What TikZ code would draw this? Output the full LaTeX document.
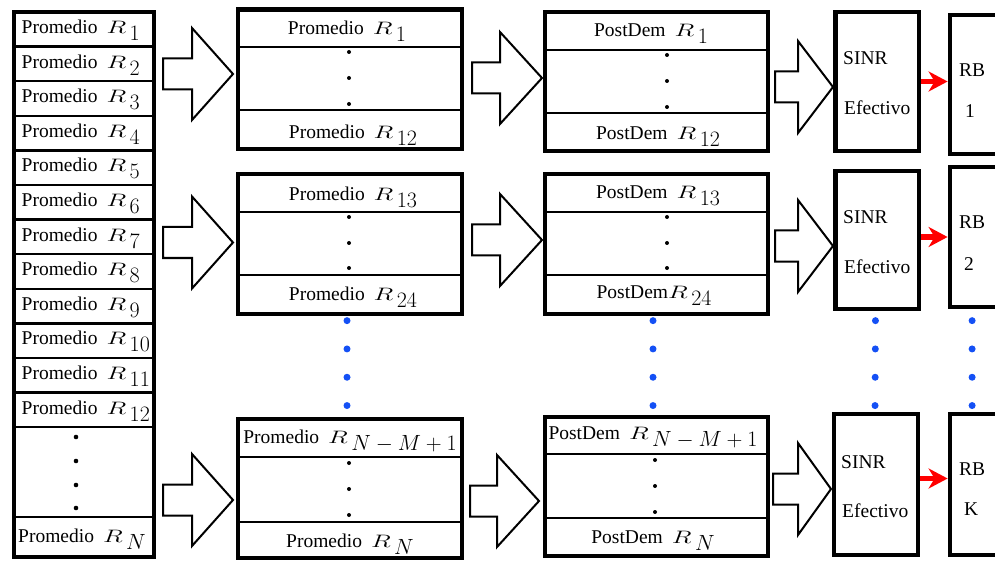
\RequirePackage{fix-cm}
\documentclass[tikz,border=0pt]{standalone}
\usepackage[no-math]{fontspec}
\usepackage{graphicx}
\setmainfont{Liberation Serif}
\usetikzlibrary{fit,arrows.meta}

% wide R with a large, lowered index
\newcommand{\Rsub}[1]{\scalebox{1.45}[1]{\fontsize{18}{21}\selectfont$R$}\kern3.5pt\raisebox{-7pt}{\fontsize{22}{26}\selectfont$#1$}}
\newcommand{\gapR}{\hspace{9pt}}

\definecolor{dotblue}{RGB}{20,80,245}

\begin{document}
\begin{tikzpicture}[x=1pt,y=-1pt,
  frame/.style={draw, line width=4.8pt, inner sep=0pt},
  rowline/.style={line width=2.4pt},
  lbl/.style={inner sep=0pt, font=\fontsize{19.5}{23}\selectfont},
  bigarrow/.style={draw, line width=2pt, fill=white, line join=miter},
  vdot/.style={fill=black},
  bluedots/.style={draw=dotblue, line width=7pt, line cap=round, dash pattern=on 0pt off 28.3pt},
  redarrow/.style={draw=red, line width=5.5pt, -{Stealth[length=19pt,width=20pt,inset=6pt]}},
  pics/blockarrow/.style 2 args={code={
    \draw[bigarrow] (0,-15.5) -- (#1,-15.5) -- (#1,-46) -- (#2,0)
      -- (#1,46) -- (#1,15.5) -- (0,15.5) -- cycle;}}
]
\useasboundingbox (0,0) rectangle (995,561);

% ---------- input column ----------
\node[frame, fit={(14,12) (154,557)}] (col) {};
\foreach \k in {1,...,12}{
  \draw[rowline] (14,{12+34.6*\k}) -- (154,{12+34.6*\k});
  \node[lbl, anchor=base west] (l\k) at (21.5,{12+34.6*(\k-1)+21.5}) {Promedio\gapR\Rsub{\k}};
}
\draw[rowline] (14,517) -- (154,517);
\node[lbl, anchor=base west] (lN) at (18,542) {Promedio\gapR\Rsub{N}};
\foreach \y in {437,461,485,508} \fill[vdot] (76,\y) circle (2.3);

% ---------- averaged groups ----------
\node[frame, fit={(238,9.5) (462,149)}] (m1) {};
\draw[rowline] (238,47) -- (462,47);
\draw[rowline] (238,110) -- (462,110);
\node[lbl, anchor=base] (m1a) at (347,35) {Promedio\gapR\Rsub{1}};
\node[lbl, anchor=base] (m1b) at (353,139) {Promedio\gapR\Rsub{12}};
\foreach \y in {52,78,104} \fill[vdot] (349,\y) circle (2);

\node[frame, fit={(238,174) (462,314)}] (m2) {};
\draw[rowline] (238,212) -- (462,212);
\draw[rowline] (238,275) -- (462,275);
\node[lbl, anchor=base] (m2a) at (353,201) {Promedio\gapR\Rsub{13}};
\node[lbl, anchor=base] (m2b) at (353,300) {Promedio\gapR\Rsub{24}};
\foreach \y in {217,243,268} \fill[vdot] (349,\y) circle (2);

\node[frame, fit={(238,419) (462,558)}] (m3) {};
\draw[rowline] (238,457) -- (462,457);
\draw[rowline] (238,522) -- (462,522);
\node[lbl, anchor=base] (m3a) at (350,443) {Promedio\gapR\Rsub{N-M+1}};
\node[lbl, anchor=base] (m3b) at (350,547) {Promedio\gapR\Rsub{N}};
\foreach \y in {463,489,515} \fill[vdot] (349,\y) circle (2);

% ---------- post-demodulation groups ----------
\node[frame, fit={(545,12) (768,151)}] (p1) {};
\draw[rowline] (545,50) -- (768,50);
\draw[rowline] (545,113) -- (768,113);
\node[lbl, anchor=base] (p1a) at (651,37) {PostDem\gapR\Rsub{1}};
\node[lbl, anchor=base] (p1b) at (658,140) {PostDem\gapR\Rsub{12}};
\foreach \y in {55,81,107} \fill[vdot] (667,\y) circle (2);

\node[frame, fit={(545,174) (768,314)}] (p2) {};
\draw[rowline] (545,212) -- (768,212);
\draw[rowline] (545,275) -- (768,275);
\node[lbl, anchor=base] (p2a) at (658,199) {PostDem\gapR\Rsub{13}};
\node[lbl, anchor=base] (p2b) at (654,298) {PostDem\Rsub{24}};
\foreach \y in {217,243,268} \fill[vdot] (667,\y) circle (2);

\node[frame, fit={(545,417) (768,556)}] (p3) {};
\draw[rowline] (545,454) -- (768,454);
\draw[rowline] (545,518) -- (768,518);
\node[lbl, anchor=base] (p3a) at (653,439) {PostDem\gapR\Rsub{N-M+1}};
\node[lbl, anchor=base] (p3b) at (653,543) {PostDem\gapR\Rsub{N}};
\foreach \y in {460,486,512} \fill[vdot] (655,\y) circle (2);

% ---------- effective SINR ----------
\node[frame, fit={(835.5,12) (919,151)}] (s1) {};
\node[lbl, anchor=base west] at (843,65) {SINR};
\node[lbl, anchor=base west] at (844,115) {Efectivo};
\node[frame, fit={(835.5,171) (919,309)}] (s2) {};
\node[lbl, anchor=base west] at (843,224) {SINR};
\node[lbl, anchor=base west] at (844,273) {Efectivo};
\node[frame, fit={(834,414) (918,555)}] (s3) {};
\node[lbl, anchor=base west] at (841,468) {SINR};
\node[lbl, anchor=base west] at (842,517) {Efectivo};

% ---------- resource blocks ----------
\node[frame, fit={(950,15) (1030,154)}] (rb1) {};
\node[lbl, anchor=base west] at (959,77) {RB};
\node[lbl, anchor=base west] at (965,118) {1};
\node[frame, fit={(950,167) (1030,307)}] (rb2) {};
\node[lbl, anchor=base west] at (959,229) {RB};
\node[lbl, anchor=base west] at (964,270) {2};
\node[frame, fit={(950,414) (1030,555)}] (rb3) {};
\node[lbl, anchor=base west] at (959,475) {RB};
\node[lbl, anchor=base west] at (964,515) {K};

% ---------- block arrows between stages ----------
\pic at (163,74) {blockarrow={29}{70}};
\pic at (472,78) {blockarrow={28}{70}};
\pic at (775,87) {blockarrow={23}{58}};
\pic at (163,242.5) {blockarrow={29}{70}};
\pic at (472,240) {blockarrow={28}{70}};
\pic at (775,246) {blockarrow={23}{58}};
\pic at (163,500) {blockarrow={29}{70}};
\pic at (470,501) {blockarrow={27}{69}};
\pic at (773,489) {blockarrow={25}{58}};

% ---------- SINR to resource block ----------
\draw[redarrow] (s1.east) -- (s1.east -| rb1.west);
\draw[redarrow] ([yshift=3pt]s2.east) -- ([yshift=3pt]s2.east -| rb2.west);
\draw[redarrow] ([yshift=6pt]s3.east) -- ([yshift=6pt]s3.east -| rb3.west);

% ---------- continuation dots ----------
\draw[bluedots, shorten <=4.25pt, shorten >=11pt] ([xshift=-3pt]m2.south) -- ([xshift=-3pt]m3.north);
\draw[bluedots, shorten <=4.25pt, shorten >=9pt] ([xshift=-3.5pt]p2.south) -- ([xshift=-3.5pt]p3.north);
\draw[bluedots, shorten <=9.25pt, shorten >=6pt] ([xshift=-1.75pt]s2.south) -- ([xshift=-1pt]s3.north);
\draw[bluedots, shorten <=11.25pt, shorten >=6pt] ([xshift=24.5pt]rb2.south west) -- ([xshift=24.5pt]rb3.north west);
\end{tikzpicture}
\end{document}
